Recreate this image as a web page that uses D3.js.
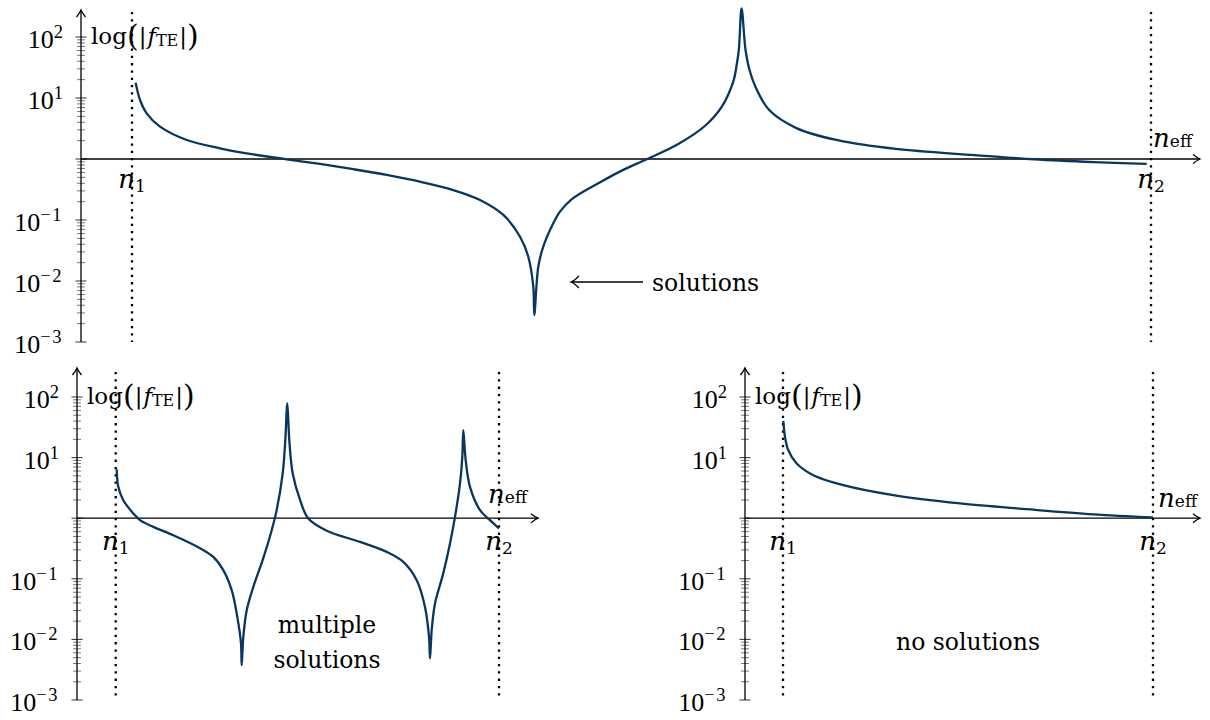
<!DOCTYPE html>
<html>
<head>
<meta charset="utf-8">
<script src="https://cdn.jsdelivr.net/npm/d3@7"></script>
<style>
  body { margin: 0; background: #fff; }
  svg { display: block; }
  text { font-family: "DejaVu Serif", serif; fill: #000; }
  .num { font-family: "Liberation Serif", serif; }
</style>
</head>
<body>
<svg id="chart" width="1210" height="720"></svg>
<script>
// Effective index normalised so that n1 = 0 and n2 = 1; |f_TE| on a log axis.

// One guided mode: a single zero and a single pole between n1 and n2
const neffOne = [0.0036, 0.0079, 0.0144, 0.0275, 0.0537, 0.0864, 0.119, 0.1518, 0.1845, 0.2172,
  0.25, 0.2826, 0.3153, 0.3415, 0.3644, 0.3808, 0.3889, 0.3938, 0.3948, 0.3987,
  0.4036, 0.4134, 0.42, 0.4314, 0.4586, 0.4806, 0.5051, 0.5361, 0.5633, 0.5788,
  0.5905, 0.5931, 0.5955, 0.5982, 0.6021, 0.606, 0.6118, 0.6253, 0.6526, 0.6913,
  0.7495, 0.8271, 0.8852, 0.9435, 0.9958];
const fOne = [17.8, 9.27, 5.61, 3.39, 2.05, 1.50, 1.19, 0.99, 0.83, 0.68,
  0.547, 0.425, 0.310, 0.213, 0.121, 0.0532, 0.0250, 0.00807, 0.00277, 0.0171,
  0.0365, 0.0883, 0.137, 0.218, 0.408, 0.645, 0.99, 1.76, 3.61, 7.19,
  19.7, 32.6, 61.2, 295, 61.2, 28.8, 15.3, 6.35, 3.18, 2.05,
  1.46, 1.16, 0.99, 0.89, 0.83];

// Thicker guide: two zeros, two poles
const neffMulti = [0.0026, 0.0068, 0.0198, 0.0459, 0.0634, 0.0981, 0.1503, 0.2199, 0.2546, 0.2807,
  0.3026, 0.3172, 0.3269, 0.3287, 0.3329, 0.3418, 0.359, 0.3851, 0.407, 0.42,
  0.4357, 0.4425, 0.4477, 0.4529, 0.4618, 0.4812, 0.5025, 0.5505, 0.6374, 0.707,
  0.7503, 0.7853, 0.8069, 0.8174, 0.82, 0.8244, 0.833, 0.8547, 0.8722, 0.8852,
  0.8983, 0.9043, 0.9069, 0.9131, 0.9243, 0.9504, 0.9765, 1.0];
const fMulti = [6.44, 3.29, 1.98, 1.20, 0.927, 0.718, 0.524, 0.320, 0.230, 0.139,
  0.0649, 0.0235, 0.00855, 0.00375, 0.0110, 0.0303, 0.0735, 0.219, 0.634, 1.36,
  5.47, 19.4, 78.1, 19.4, 5.47, 1.98, 0.99, 0.622, 0.406, 0.278,
  0.190, 0.0948, 0.0344, 0.0110, 0.00484, 0.0142, 0.0391, 0.124, 0.383, 1.05,
  3.74, 10.3, 28.3, 9.06, 3.29, 1.36, 0.927, 0.676];

// Too thin: no zero crossing at all
const neffNone = [0.0008, 0.0054, 0.0143, 0.037, 0.0819, 0.163, 0.2981, 0.4784, 0.6586, 0.8386, 1.0];
const fNone = [40.3, 22.0, 13.2, 8.0, 5.13, 3.51, 2.40, 1.75, 1.41, 1.16, 1.03];

const decadeTicks = [1e-3, 1e-2, 1e-1, 1, 10, 100];
const decadeExponents = ["−3", "−2", "−1", "", "1", "2"];
const minorMultipliers = [2, 3, 4, 5, 6, 7, 8, 9];
const boundaryNames = ["1", "2"];

const svg = d3.select("#chart");
const curveColor = "#08365f";

const panels = [
  { neff: neffOne, f: fOne, axisX: 81, n1: 132, n2: 1151, xEnd: 1200,
    yLow: 342, yHigh: 37, arrowTop: 10, dotTop: 12, nBelow: 29,
    effRight: 1192, effAbove: 12 },
  { neff: neffMulti, f: fMulti, axisX: 77, n1: 115.7, n2: 499, xEnd: 538,
    yLow: 700, yHigh: 397, arrowTop: 368, dotTop: 372, nBelow: 32,
    effRight: 527, effAbove: 15 },
  { neff: neffNone, f: fNone, axisX: 745, n1: 783, n2: 1153, xEnd: 1200,
    yLow: 700, yHigh: 397, arrowTop: 368, dotTop: 372, nBelow: 32,
    effRight: 1197, effAbove: 11 }
];

function arrowUp(g, x, y) {
  g.append("path")
    .attr("d", `M${x - 4.5},${y + 7} Q${x - 1},${y + 2.5} ${x},${y} Q${x + 1},${y + 2.5} ${x + 4.5},${y + 7}`)
    .attr("fill", "none").attr("stroke", "#000").attr("stroke-width", 1.3);
}
function arrowRight(g, x, y) {
  g.append("path")
    .attr("d", `M${x - 7},${y - 4.5} Q${x - 2.5},${y - 1} ${x},${y} Q${x - 2.5},${y + 1} ${x - 7},${y + 4.5}`)
    .attr("fill", "none").attr("stroke", "#000").attr("stroke-width", 1.3);
}

panels.forEach(p => {
  const g = svg.append("g");
  const x = d3.scaleLinear().domain([0, 1]).range([p.n1, p.n2]);
  const y = d3.scaleLog().domain([1e-3, 1e2]).range([p.yLow, p.yHigh]);
  const y0 = y(1);

  // minor and major ticks across the vertical axis
  const minor = [];
  decadeTicks.slice(0, -1).forEach(d => minorMultipliers.forEach(m => minor.push(d * m)));
  g.selectAll(".minor").data(minor).join("line")
    .attr("x1", p.axisX - 4).attr("x2", p.axisX + 4)
    .attr("y1", d => y(d)).attr("y2", d => y(d))
    .attr("stroke", "#6a6a6a").attr("stroke-width", 0.9);
  g.selectAll(".major").data(decadeTicks).join("line")
    .attr("x1", p.axisX - 5.5).attr("x2", p.axisX + 5.5)
    .attr("y1", d => y(d)).attr("y2", d => y(d))
    .attr("stroke", "#333").attr("stroke-width", 1);

  // decade labels
  decadeTicks.forEach((d, i) => {
    if (!decadeExponents[i]) return;
    const t = g.append("text").attr("class", "num")
      .attr("x", p.axisX - 18).attr("y", y(d) + 11)
      .attr("text-anchor", "end");
    t.append("tspan").attr("font-size", 26).text("10");
    t.append("tspan").attr("font-size", 18.5).attr("dy", -10)
      .attr("letter-spacing", decadeExponents[i].length > 1 ? 1.5 : 0)
      .text(decadeExponents[i]);
  });

  // axes
  g.append("line").attr("x1", p.axisX).attr("x2", p.axisX)
    .attr("y1", p.yLow).attr("y2", p.arrowTop)
    .attr("stroke", "#000").attr("stroke-width", 1.3);
  arrowUp(g, p.axisX, p.arrowTop);
  g.append("line").attr("x1", p.axisX).attr("x2", p.xEnd)
    .attr("y1", y0).attr("y2", y0)
    .attr("stroke", "#000").attr("stroke-width", 1.3);
  arrowRight(g, p.xEnd, y0);

  // n1 and n2 boundaries
  g.selectAll(".bound").data([0, 1]).join("line")
    .attr("x1", d => x(d)).attr("x2", d => x(d))
    .attr("y1", p.dotTop).attr("y2", p.yLow)
    .attr("stroke", "#000").attr("stroke-width", 2.3)
    .attr("stroke-dasharray", "2.3 5");

  boundaryNames.forEach((nm, i) => {
    const t = g.append("text").attr("x", x(i)).attr("y", y0 + p.nBelow)
      .attr("text-anchor", "middle");
    t.append("tspan").attr("font-style", "italic").attr("font-size", 26).text("n");
    t.append("tspan").attr("font-size", 17).attr("dy", 4).text(nm);
  });

  // axis titles
  const ft = g.append("text").attr("x", p.axisX + 10).attr("y", y(100) + 6.5)
    .attr("font-size", 23);
  ft.append("tspan").text("log");
  ft.append("tspan").attr("font-size", 30).attr("dy", 2.5).text("(");
  ft.append("tspan").attr("dy", -2.5).text("|");
  ft.append("tspan").attr("font-style", "italic").attr("dx", 1).text("f");
  ft.append("tspan").attr("font-size", 16).attr("dy", 2).text("TE");
  ft.append("tspan").attr("dy", -2).attr("dx", 1).text("|");
  ft.append("tspan").attr("font-size", 30).attr("dy", 2.5).text(")");

  const et = g.append("text").attr("x", p.effRight).attr("y", y0 - p.effAbove)
    .attr("text-anchor", "end");
  et.append("tspan").attr("font-style", "italic").attr("font-size", 26).text("n");
  et.append("tspan").attr("font-size", 17).attr("dy", 0).text("eff");

  // |f_TE| curve
  const pts = p.neff.map((v, i) => [v, p.f[i]]);
  g.append("path")
    .attr("d", d3.line().x(d => x(d[0])).y(d => y(d[1])).curve(d3.curveCatmullRom.alpha(0.5))(pts))
    .attr("fill", "none").attr("stroke", curveColor).attr("stroke-width", 2.3)
    .attr("stroke-linejoin", "round");
});

// annotations
const ann = svg.append("g");
ann.append("line").attr("x1", 643).attr("x2", 571).attr("y1", 282).attr("y2", 282)
  .attr("stroke", "#000").attr("stroke-width", 1.3);
ann.append("path")
  .attr("d", "M579,276 Q574,281 571,282 Q574,283 579,288")
  .attr("fill", "none").attr("stroke", "#000").attr("stroke-width", 1.3);
ann.append("text").attr("x", 652).attr("y", 291).attr("font-size", 23.5).text("solutions");
ann.append("text").attr("x", 327).attr("y", 633).attr("font-size", 23.5)
  .attr("text-anchor", "middle").text("multiple");
ann.append("text").attr("x", 327).attr("y", 668).attr("font-size", 23.5)
  .attr("text-anchor", "middle").text("solutions");
ann.append("text").attr("x", 968).attr("y", 650).attr("font-size", 23.5)
  .attr("text-anchor", "middle").text("no solutions");
</script>
</body>
</html>
